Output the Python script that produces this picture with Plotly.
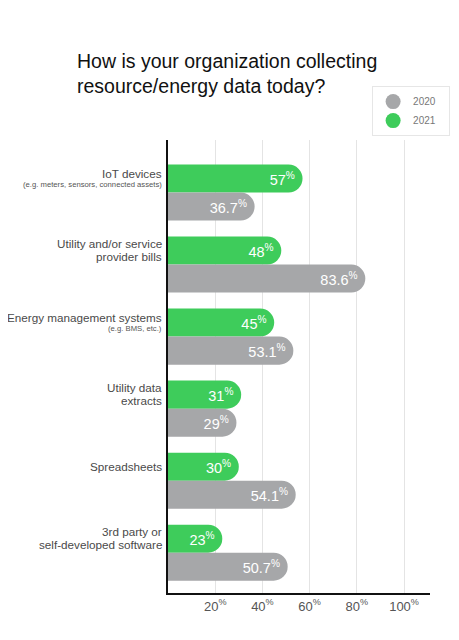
import plotly.graph_objects as go

categories = [
    "IoT devices",
    "Utility and/or service<br>provider bills",
    "Energy management systems",
    "Utility data<br>extracts",
    "Spreadsheets",
    "3rd party or<br>self-developed software",
]
category_notes = [
    "(e.g. meters, sensors, connected assets)",
    "",
    "(e.g. BMS, etc.)",
    "",
    "",
    "",
]
values_2021 = [57, 48, 45, 31, 30, 23]
values_2020 = [36.7, 83.6, 53.1, 29, 54.1, 50.7]
x_ticks = [20, 40, 60, 80, 100]
legend_names = ["2020", "2021"]

GREEN = "#3ecc5b"
GRAY = "#a6a7a9"
FONT = "Liberation Sans, Arial, sans-serif"

# page body has an 8px default margin; size the figure to fit the window
W, H = 451, 632
ML, MR, MT, MB = 160, 29, 132, 47

ypos = list(range(len(categories)))

def fmt(v):
    return f"{v:g}<sup>%</sup>"

fig = go.Figure()
fig.add_trace(go.Bar(
    y=ypos, x=values_2021, orientation="h", name="2021",
    marker=dict(color=GREEN, cornerradius="50%", line=dict(width=0)),
    text=[fmt(v) for v in values_2021], textposition="inside",
    insidetextanchor="end", constraintext="none",
    textfont=dict(color="white", size=14.5, family=FONT),
    showlegend=False, hoverinfo="skip",
))
fig.add_trace(go.Bar(
    y=ypos, x=values_2020, orientation="h", name="2020",
    marker=dict(color=GRAY, cornerradius="50%", line=dict(width=0)),
    text=[fmt(v) for v in values_2020], textposition="inside",
    insidetextanchor="end", constraintext="none",
    textfont=dict(color="white", size=14.5, family=FONT),
    showlegend=False, hoverinfo="skip",
))
# legend-only circle markers
for name, col in zip(legend_names, [GRAY, GREEN]):
    fig.add_trace(go.Scatter(x=[None], y=[None], mode="markers",
                             name=name + "\u00a0" * 3,
                             marker=dict(color=col, size=15, symbol="circle")))

GREEN_OFFSET = 0.194
annotations = []
for i, (lab, note) in enumerate(zip(categories, category_notes)):
    lines = lab.split("<br>")
    yc = i - GREEN_OFFSET
    if note:
        shifts = [5]
    elif len(lines) == 2:
        shifts = [7, -6]
    else:
        shifts = [0]
    for line, s in zip(lines, shifts):
        annotations.append(dict(
            text=line, xref="paper", x=0, xanchor="right", xshift=-4,
            yref="y", y=yc, yanchor="middle", yshift=s, showarrow=False,
            font=dict(size=11.7, color="#4a4a4a", family=FONT),
        ))
    if note:
        annotations.append(dict(
            text=note, xref="paper", x=0, xanchor="right", xshift=-4,
            yref="y", y=yc, yanchor="middle", yshift=-6, showarrow=False,
            font=dict(size=7.7, color="#555555", family=FONT),
        ))

fig.update_layout(
    width=W, height=H,
    margin=dict(l=ML, r=MR, t=MT, b=MB, autoexpand=False),
    paper_bgcolor="white", plot_bgcolor="white",
    barmode="group", bargap=0.222, bargroupgap=0,
    font=dict(family=FONT),
    title=dict(
        text="How is your organization collecting<br>resource/energy data today?",
        x=69 / W, xanchor="left", xref="container",
        y=1 - 60 / H, yanchor="top", yref="container",
        font=dict(size=19.5, color="#111111", family=FONT),
    ),
    legend=dict(
        x=0.779, y=1.119, xanchor="left", yanchor="top",
        bgcolor="white", bordercolor="#e6e6e6", borderwidth=1,
        font=dict(size=10, color="#777777", family=FONT),
        itemwidth=30,
    ),
    xaxis=dict(
        range=[0, 111], tickvals=x_ticks,
        ticktext=[f"{t}<sup>%</sup>" for t in x_ticks],
        showgrid=True, gridcolor="#e4e4e4", gridwidth=1,
        showline=True, linecolor="#111111", linewidth=2,
        zeroline=False, ticks="",
        tickfont=dict(size=13, color="#555555", family=FONT),
        fixedrange=True,
    ),
    yaxis=dict(
        range=[5.56, -0.73], showticklabels=False, showgrid=False,
        showline=True, linecolor="#111111", linewidth=2,
        zeroline=False, ticks="", fixedrange=True,
    ),
    annotations=annotations,
)

fig.write_html("out.html")
